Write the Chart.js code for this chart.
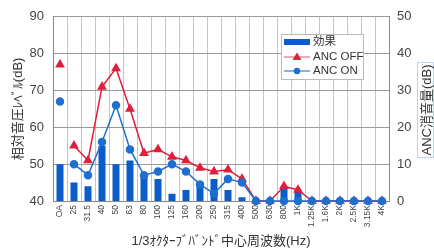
<!DOCTYPE html>
<html>
<head>
<meta charset="utf-8">
<script src="https://cdn.jsdelivr.net/npm/chart.js@4"></script>
<style>
  html, body { margin: 0; padding: 0; background: #fff; }
  #wrap { width: 434px; height: 250px; }
</style>
</head>
<body>
<div id="wrap"><canvas id="line-chart" width="434" height="250"></canvas></div>
<script>
// 1/3 octave band centre frequencies
const bands = ['OA','25','31.5','40','50','63','80','100','125','160','200','250','315','400','500','630','800','1K','1.25K','1.6K','2K','2.5K','3.15K','4K'];
// relative sound pressure level (dB), left axis
const ancOff = [77,55,51,71,76,65,53,54,52,51,49,48,48.5,46,40,40,44,43,40,40,40,40,40,40];
const ancOn  = [67,50,47,56,66,54,47,48,50,48,44.5,42,46,45,40,40,40,40,40,40,40,40,40,40];
// ANC reduction (dB), right axis
const effect = [10,5,4,15,10,11,7,6,2,3,5,6,3,1,0,0,4,3,0,0,0,0,0,0];

const leftTicks = [40,50,60,70,80,90];
const rightTicks = [0,10,20,30,40,50];

const jpFont = "'Liberation Sans', 'Noto Sans CJK JP', sans-serif";
const RED = '#e01e3c';
const BLUE = '#1f6fd0';
const BAR = '#0a5cc8';

// no line between OA and 25
const skipOA = c => c.p0DataIndex === 0 ? 'rgba(0,0,0,0)' : undefined;

const extras = {
  id: 'extras',
  afterDraw(chart) {
    const ctx = chart.ctx;
    ctx.save();
    // legend box
    ctx.fillStyle = '#fff';
    ctx.fillRect(281, 34, 82, 45);
    ctx.strokeStyle = '#bbb';
    ctx.lineWidth = 1;
    ctx.strokeRect(281.5, 34.5, 82, 45);
    ctx.fillStyle = BAR;
    ctx.fillRect(284, 39, 26, 6);
    ctx.strokeStyle = '#ef8a9a';
    ctx.lineWidth = 1.5;
    ctx.beginPath(); ctx.moveTo(284, 57); ctx.lineTo(310, 57); ctx.stroke();
    ctx.fillStyle = RED;
    ctx.beginPath(); ctx.moveTo(297, 52.5); ctx.lineTo(301.5, 60); ctx.lineTo(292.5, 60); ctx.closePath(); ctx.fill();
    ctx.strokeStyle = '#5b9ae0';
    ctx.beginPath(); ctx.moveTo(284, 71); ctx.lineTo(310, 71); ctx.stroke();
    ctx.fillStyle = BLUE;
    ctx.beginPath(); ctx.arc(297, 71, 3.2, 0, Math.PI * 2); ctx.fill();
    ctx.fillStyle = '#333';
    ctx.font = '11.5px ' + jpFont;
    ctx.textBaseline = 'middle';
    ctx.fillText('効果', 313, 42);
    ctx.fillText('ANC OFF', 313, 57);
    ctx.fillText('ANC ON', 313, 71);
    // right axis title in a light blue frame
    ctx.strokeStyle = '#b8d4ee';
    ctx.lineWidth = 1;
    ctx.strokeRect(417.5, 62.5, 16, 95);
    ctx.translate(426, 110);
    ctx.rotate(-Math.PI / 2);
    ctx.textAlign = 'center';
    ctx.font = '13px ' + jpFont;
    ctx.fillStyle = '#333';
    ctx.fillText('ANC消音量(dB)', 0, 1);
    ctx.restore();
  }
};

new Chart(document.getElementById('line-chart'), {
  type: 'bar',
  data: {
    labels: bands,
    datasets: [{
        type: 'line',
        label: 'ANC ON',
        data: ancOn,
        yAxisID: 'y',
        borderColor: BLUE,
        backgroundColor: BLUE,
        borderWidth: 1.5,
        pointStyle: 'circle',
        pointRadius: 3.5,
        segment: { borderColor: skipOA },
        clip: false,
        order: 1
      }, {
        type: 'line',
        label: 'ANC OFF',
        data: ancOff,
        yAxisID: 'y',
        borderColor: RED,
        backgroundColor: RED,
        borderWidth: 1.5,
        pointStyle: 'triangle',
        pointRadius: 4.2,
        segment: { borderColor: skipOA },
        clip: false,
        order: 2
      }, {
        label: '効果',
        data: effect,
        yAxisID: 'y1',
        backgroundColor: BAR,
        barPercentage: 0.5,
        categoryPercentage: 1,
        order: 3
      }
    ]
  },
  options: {
    responsive: false,
    animation: false,
    layout: { padding: { top: 15, right: 0, left: 0, bottom: 0 } },
    plugins: { legend: { display: false }, tooltip: { enabled: false } },
    scales: {
      x: {
        grid: { color: '#c4c4c4', drawTicks: false, offset: true },
        border: { color: '#888' },
        ticks: { minRotation: 90, maxRotation: 90, autoSkip: false, padding: 4,
                 color: '#444', font: { size: 8.5, family: jpFont } },
        title: { display: true, text: '1/3ｵｸﾀｰﾌﾞﾊﾞﾝﾄﾞ中心周波数(Hz)', color: '#333',
                 font: { size: 13, family: jpFont }, padding: { top: 0, bottom: 1 } },
        afterFit: s => { s.height = 49; }
      },
      y: {
        position: 'left',
        min: 40, max: 90,
        afterBuildTicks: s => { s.ticks = leftTicks.map(v => ({ value: v })); },
        grid: { color: '#9a9a9a', drawTicks: false },
        border: { color: '#888' },
        ticks: { padding: 9, color: '#444', font: { size: 13, family: jpFont } },
        title: { display: true, text: '相対音圧ﾚﾍﾞﾙ(dB)', color: '#333',
                 font: { size: 13, family: jpFont }, padding: { top: 11, bottom: 0 } },
        afterFit: s => { s.width = 53; }
      },
      y1: {
        position: 'right',
        min: 0, max: 50,
        afterBuildTicks: s => { s.ticks = rightTicks.map(v => ({ value: v })); },
        grid: { display: false, drawTicks: false },
        border: { color: '#888' },
        ticks: { padding: 8, color: '#444', font: { size: 13, family: jpFont } },
        afterFit: s => { s.width = 45; }
      }
    }
  },
  plugins: [extras]
});
</script>
</body>
</html>
